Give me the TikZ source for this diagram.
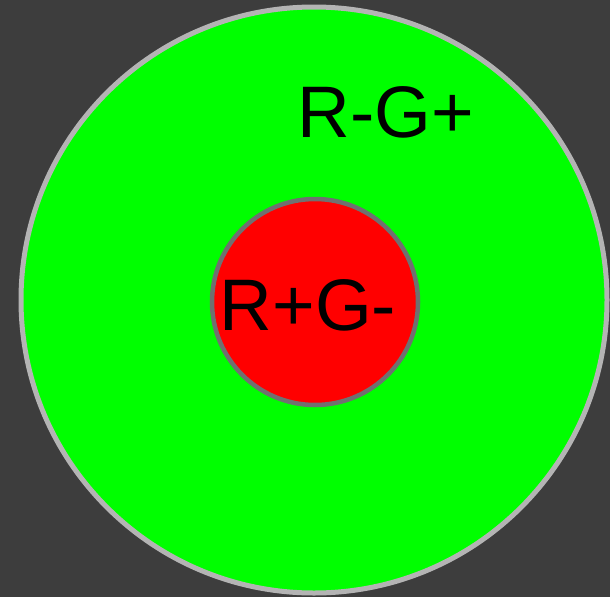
\documentclass[tikz,border=0pt]{standalone}
\usepackage{fontspec}
\setmainfont{Liberation Sans}
\definecolor{bg}{HTML}{3D3D3D}
\definecolor{outerline}{HTML}{B4B4B4}
\definecolor{innerline}{HTML}{707070}
\begin{document}
\begin{tikzpicture}[x=1pt,y=-1pt,
  lbl/.style={inner sep=0pt,font=\fontsize{73}{73}\selectfont,text=black}]
\fill[bg] (0,0) rectangle (610,597);
\useasboundingbox (0,0) rectangle (610,597);
\node[circle,draw=outerline,line width=5pt,fill=green,minimum size=586pt,inner sep=0pt] (outer) at (314,300) {};
\node[circle,draw=innerline,line width=4.5pt,fill=red,minimum size=206pt,inner sep=0pt] (inner) at (315,302) {};
\node[lbl] (rg1) at (386,112) {R-G+};
\node[lbl] (rg2) at (308,305) {R+G-};
\end{tikzpicture}
\end{document}
